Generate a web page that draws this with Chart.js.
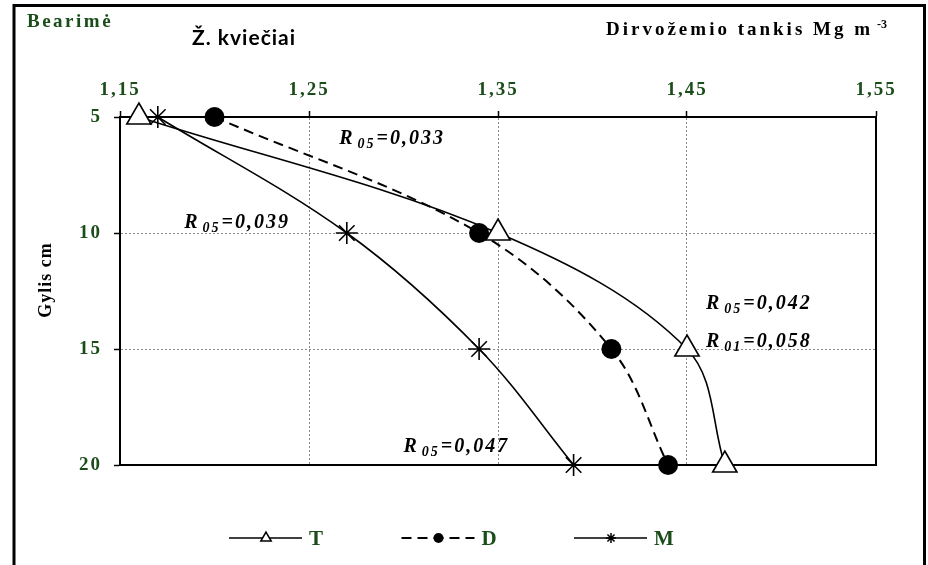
<!DOCTYPE html>
<html>
<head>
<meta charset="utf-8">
<script src="https://cdn.jsdelivr.net/npm/chart.js"></script>
<style>
  html, body { margin: 0; padding: 0; background: #fff; }
  canvas { display: block; }
</style>
</head>
<body>
<canvas id="chart" width="928" height="565"></canvas>
<script>
// =========================
// DATA
// =========================
const depths = [5, 10, 15, 20];
const densityT = [1.16, 1.35, 1.45, 1.47];
const densityD = [1.20, 1.34, 1.41, 1.44];
const densityM = [1.17, 1.27, 1.34, 1.39];
const seriesNames = ["T", "D", "M"];
const xTicks = [1.15, 1.25, 1.35, 1.45, 1.55];
const yTicks = [5, 10, 15, 20];

// LSD notes: subscript, value, anchor (density, depth)
const lsdSubs = ["05", "05", "05", "01", "05"];
const lsdValues = ["0,033", "0,039", "0,042", "0,058", "0,047"];
const lsdAnchors = [[1.266, 6.16], [1.184, 9.78], [1.46, 13.28], [1.46, 14.91], [1.30, 19.44]];

const GREEN = "#1b4d1b";
const SERIF = '"Liberation Serif", "DejaVu Serif", serif';

function toPoints(xs) {
  return depths.map((d, i) => ({ x: xs[i], y: d }));
}

// =========================
// DRAWING HELPERS
// =========================
function drawMarker(ctx, style, x, y, r, fill, lw) {
  ctx.save();
  ctx.setLineDash([]);
  ctx.lineWidth = lw;
  ctx.strokeStyle = "#000";
  ctx.fillStyle = fill;
  ctx.beginPath();
  if (style === "triangle") {
    ctx.moveTo(x, y - r);
    ctx.lineTo(x + r * 0.866, y + r / 2);
    ctx.lineTo(x - r * 0.866, y + r / 2);
    ctx.closePath();
    ctx.fill();
    ctx.stroke();
  } else if (style === "circle") {
    ctx.arc(x, y, r, 0, Math.PI * 2);
    ctx.fill();
  } else {
    for (let k = 0; k < 4; k++) {
      const a = (k * Math.PI) / 4;
      ctx.moveTo(x - Math.cos(a) * r, y - Math.sin(a) * r);
      ctx.lineTo(x + Math.cos(a) * r, y + Math.sin(a) * r);
    }
    ctx.stroke();
  }
  ctx.restore();
}

function drawLsd(ctx, x, y, sub, val) {
  ctx.font = "italic bold 20px " + SERIF;
  ctx.fillText("R", x, y);
  let cx = x + ctx.measureText("R").width + 3;
  ctx.font = "italic bold 14px " + SERIF;
  ctx.fillText(sub, cx, y + 4);
  cx += ctx.measureText(sub).width + 1;
  ctx.font = "italic bold 20px " + SERIF;
  ctx.fillText("=" + val, cx, y);
}

const decor = {
  id: "decor",
  beforeDraw(chart) {
    // tick labels in the original are widely spaced
    chart.ctx.letterSpacing = "2px";
  },
  beforeDatasetsDraw(chart) {
    const { ctx, chartArea: a } = chart;
    ctx.save();
    ctx.letterSpacing = "0px";
    ctx.strokeStyle = "#000";
    ctx.lineWidth = 2;
    ctx.strokeRect(a.left, a.top, a.right - a.left, a.bottom - a.top);
    ctx.restore();
  },
  afterDraw(chart) {
    const { ctx, scales } = chart;
    ctx.save();
    ctx.textBaseline = "alphabetic";
    ctx.textAlign = "left";

    // outer frame
    ctx.strokeStyle = "#000";
    ctx.lineWidth = 3;
    ctx.beginPath();
    ctx.moveTo(14, 565);
    ctx.lineTo(14, 5.5);
    ctx.lineTo(924.5, 5.5);
    ctx.lineTo(924.5, 565);
    ctx.stroke();

    // titles
    ctx.fillStyle = GREEN;
    ctx.letterSpacing = "2.5px";
    ctx.font = "bold 19px " + SERIF;
    ctx.fillText("Bearimė", 27, 27);

    ctx.fillStyle = "#000";
    ctx.letterSpacing = "1px";
    ctx.font = 'bold 21px Lato, "Open Sans", sans-serif';
    ctx.fillText("Ž. kviečiai", 192, 45);

    ctx.letterSpacing = "3px";
    ctx.font = "bold 19px " + SERIF;
    ctx.fillText("Dirvožemio tankis Mg m", 606, 35);
    ctx.letterSpacing = "0px";
    ctx.font = "bold 12px " + SERIF;
    ctx.fillText("-3", 877, 28);

    // y axis title
    ctx.save();
    ctx.translate(51, 280);
    ctx.rotate(-Math.PI / 2);
    ctx.textAlign = "center";
    ctx.letterSpacing = "1px";
    ctx.font = "bold 18px " + SERIF;
    ctx.fillText("Gylis cm", 0, 0);
    ctx.restore();

    // LSD notes
    ctx.fillStyle = "#000";
    ctx.letterSpacing = "2px";
    lsdAnchors.forEach((p, i) => {
      const px = scales.x.getPixelForValue(p[0]);
      const py = scales.y.getPixelForValue(p[1]);
      drawLsd(ctx, px, py, lsdSubs[i], lsdValues[i]);
    });

    // legend: line + marker + name
    const ly = 538;
    let lx = 229;
    chart.data.datasets.forEach(ds => {
      ctx.save();
      ctx.strokeStyle = "#000";
      ctx.lineWidth = ds.borderWidth;
      ctx.setLineDash(ds.borderDash || []);
      ctx.beginPath();
      ctx.moveTo(lx, ly);
      ctx.lineTo(lx + 73, ly);
      ctx.stroke();
      ctx.restore();
      drawMarker(ctx, ds.pointStyle, lx + 37, ly, ds.pointStyle === "triangle" ? 6 : 5,
        ds.pointBackgroundColor, 1.5);
      ctx.fillStyle = GREEN;
      ctx.letterSpacing = "0px";
      ctx.font = "bold 21px " + SERIF;
      ctx.fillText(ds.label, lx + 80, ly + 7);
      lx += 172.5;
    });
    ctx.restore();
  }
};

// =========================
// CHART
// =========================
new Chart(document.getElementById("chart"), {
  type: "scatter",
  data: {
    datasets: [
      {
        label: seriesNames[0],
        data: toPoints(densityT),
        showLine: true,
        tension: 0.35,
        borderColor: "#000",
        borderWidth: 1.6,
        pointStyle: "triangle",
        pointRadius: 14,
        pointBackgroundColor: "#fff",
        pointBorderColor: "#000",
        pointBorderWidth: 1.6,
        clip: false
      },
      {
        label: seriesNames[1],
        data: toPoints(densityD),
        showLine: true,
        tension: 0.35,
        borderColor: "#000",
        borderWidth: 2,
        borderDash: [10, 6],
        pointStyle: "circle",
        pointRadius: 10,
        pointBackgroundColor: "#000",
        pointBorderColor: "#000",
        pointBorderWidth: 0,
        clip: false
      },
      {
        label: seriesNames[2],
        data: toPoints(densityM),
        showLine: true,
        tension: 0.35,
        borderColor: "#000",
        borderWidth: 1.6,
        pointStyle: "star",
        pointRadius: 11,
        pointBackgroundColor: "#000",
        pointBorderColor: "#000",
        pointBorderWidth: 1.6,
        clip: false
      }
    ]
  },
  options: {
    responsive: false,
    animation: false,
    devicePixelRatio: 1,
    layout: { padding: { left: 0, top: 0, right: 52, bottom: 100 } },
    plugins: {
      legend: { display: false },
      tooltip: { enabled: false }
    },
    scales: {
      x: {
        type: "linear",
        position: "top",
        min: 1.15,
        max: 1.55,
        afterBuildTicks: s => { s.ticks = xTicks.map(v => ({ value: v })); },
        afterFit: s => { s.height = 117; },
        ticks: {
          color: GREEN,
          font: { family: SERIF, size: 19, weight: "bold" },
          padding: 10,
          maxRotation: 0,
          callback: v => v.toFixed(2).replace(".", ",")
        },
        grid: {
          color: "#8a8a8a",
          lineWidth: 1,
          tickColor: "#000",
          tickLength: 6,
          tickWidth: 1.5
        },
        border: { display: true, color: "#000", width: 2, dash: [2, 2] }
      },
      y: {
        type: "linear",
        reverse: true,
        min: 5,
        max: 20,
        afterBuildTicks: s => { s.ticks = yTicks.map(v => ({ value: v })); },
        afterFit: s => { s.width = 120; },
        ticks: {
          color: GREEN,
          font: { family: SERIF, size: 19, weight: "bold" },
          padding: 12,
          callback: v => String(v)
        },
        grid: {
          color: "#8a8a8a",
          lineWidth: 1,
          tickColor: "#000",
          tickLength: 6,
          tickWidth: 1.5
        },
        border: { display: true, color: "#000", width: 2, dash: [2, 2] }
      }
    }
  },
  plugins: [decor]
});
</script>
</body>
</html>
